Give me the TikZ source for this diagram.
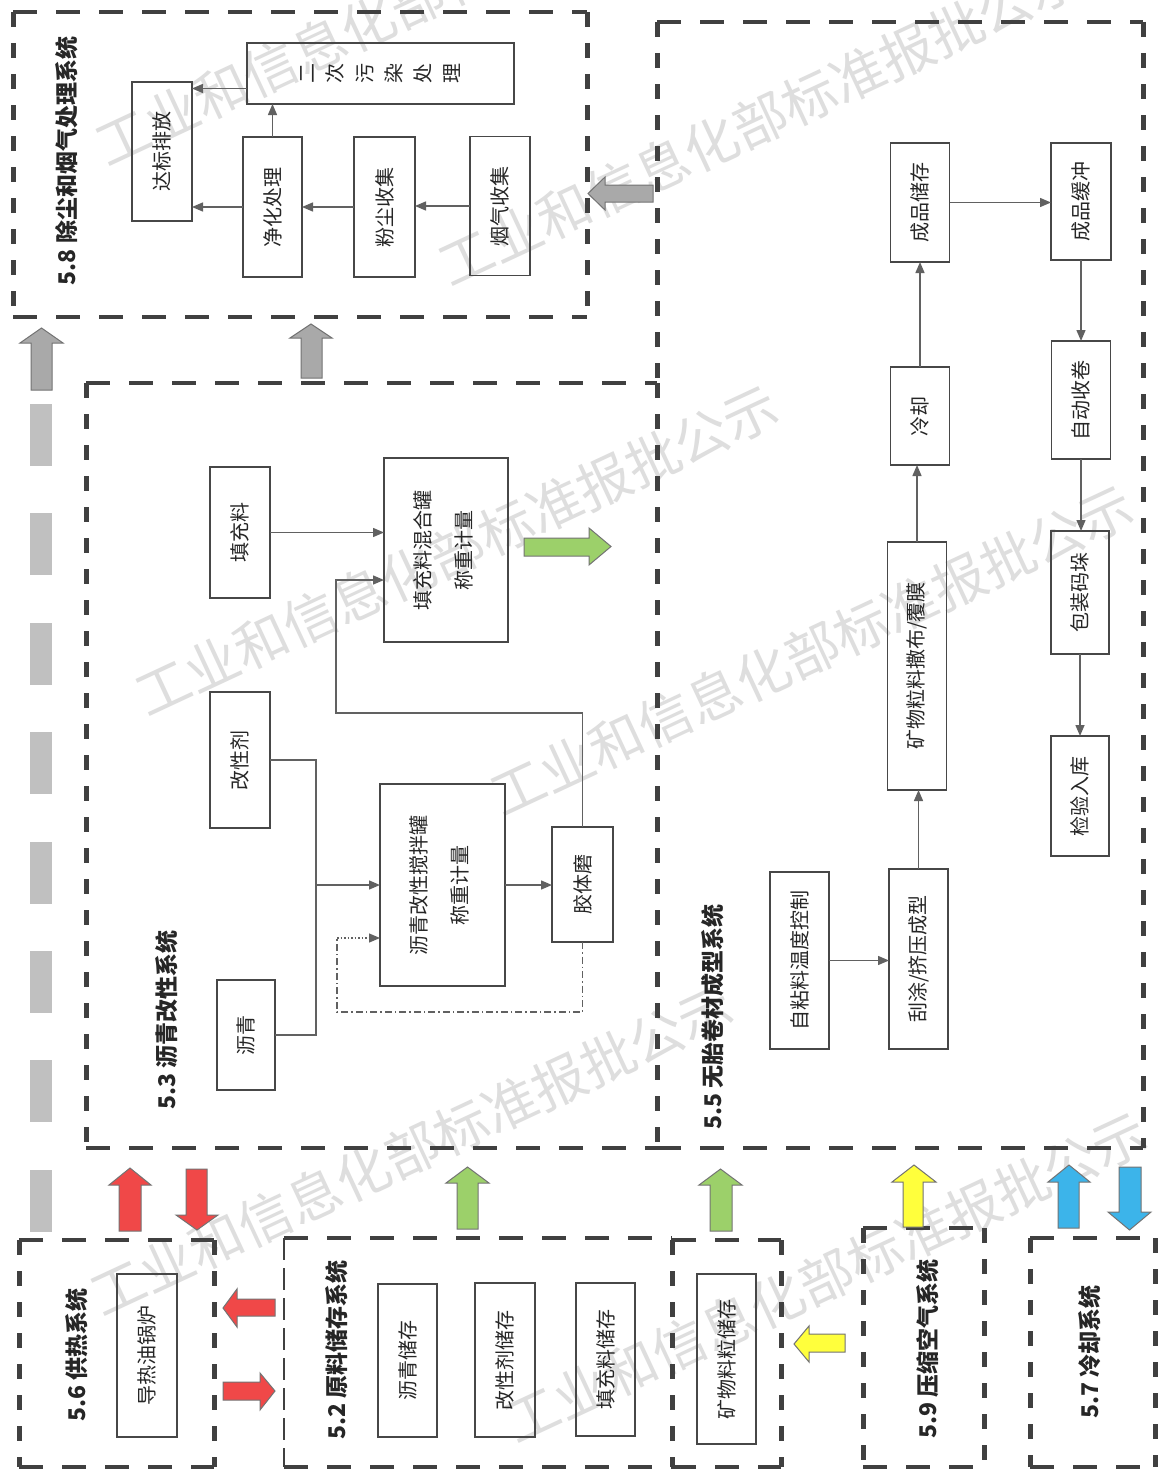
\documentclass[tikz,border=0pt]{standalone}
\usepackage{fontspec}
\setmainfont{Noto Sans CJK SC}
\usetikzlibrary{arrows.meta,fit}
\definecolor{dk}{HTML}{404040}
\definecolor{redA}{HTML}{F04848}
\definecolor{grnA}{HTML}{9CD06A}
\definecolor{yelA}{HTML}{FFFF3C}
\definecolor{bluA}{HTML}{3CB4EA}
\definecolor{gryA}{HTML}{A9A9A9}
\definecolor{gryB}{HTML}{C0C0C0}
\newcommand\sysbox[5]{\coordinate (#1-a) at (#2,#3); \coordinate (#1-b) at (#4,#5); \node[fit=(#1-a)(#1-b), inner sep=0pt, outer sep=0pt] (#1) {};}
\newcommand\hedges[1]{\draw[hd] (#1.north west) -- (#1.north east) (#1.south west) -- (#1.south east);}
\newcommand\vedges[1]{\draw[vd] (#1.north west) -- (#1.south west) (#1.north east) -- (#1.south east);}
\newcommand\bxn[6]{\node[bx, minimum width=#4pt, minimum height=#5pt] (#1) at (#2,#3) {\rotatebox{90}{#6}};}
\newcommand\ttln[4]{\node[ttl] (#1) at (#2,#3) {\rotatebox{90}{#4}};}
\newcommand\blkup[8]{\filldraw[blk, fill=#1] (#3,#8) -- (#3,#7) -- (#2,#7) -- ({(#2+#5)/2},#6) -- (#5,#7) -- (#4,#7) -- (#4,#8) -- cycle;}
\newcommand\blkdown[8]{\filldraw[blk, fill=#1] (#3,#6) -- (#3,#7) -- (#2,#7) -- ({(#2+#5)/2},#8) -- (#5,#7) -- (#4,#7) -- (#4,#6) -- cycle;}
\newcommand\rc[1]{\rotatebox{90}{#1}}
\begin{document}
\begin{tikzpicture}[x=1pt,y=-1pt,
  bx/.style={draw=black!72, line width=1.2pt, inner sep=0pt, outer sep=0pt, text=black!85, font=\fontsize{20}{24}\selectfont},
  ttl/.style={inner sep=0pt, text=black!85, font=\fontsize{23}{27}\selectfont\bfseries},
  ar/.style={draw=black!62, line width=1.4pt, -{Triangle[length=11pt,width=9pt]}},
  ln/.style={draw=black!62, line width=1.4pt},
  hd/.style={draw=dk, line width=4pt, dash pattern=on 24pt off 19pt},
  vd/.style={draw=dk, line width=5pt, dash pattern=on 15pt off 16pt},
  blk/.style={draw=black!55, line width=1pt},
  wm/.style={text=black!13, font=\fontsize{54}{60}\selectfont, rotate=25, inner sep=0pt}]
\useasboundingbox (0,0) rectangle (1158,1472);
\fill[white] (0,0) rectangle (1158,1472);
% watermark
\node[wm] (wm1) at (760,120) {工业和信息化部标准报批公示};
\node[wm] (wm2) at (417,0) {工业和信息化部标准报批公示};
\node[wm] (wm3) at (457,550) {工业和信息化部标准报批公示};
\node[wm] (wm4) at (812,650) {工业和信息化部标准报批公示};
\node[wm] (wm5) at (412,1150) {工业和信息化部标准报批公示};
\node[wm] (wm6) at (826,1277) {工业和信息化部标准报批公示};
% containers
\sysbox{c58}{13}{12}{587}{317}
\sysbox{c53}{86}{383}{657}{1148}
\sysbox{c55}{657}{22}{1143}{1148}
\sysbox{c56}{19}{1240}{214}{1467}
\sysbox{c52}{284}{1238}{672}{1467}
\sysbox{c5m}{672}{1240}{781}{1467}
\sysbox{c59}{863}{1228}{984}{1467}
\sysbox{c57}{1030}{1238}{1155}{1467}
\hedges{c58}\vedges{c58}
\hedges{c53}\vedges{c53}
\hedges{c55}
\draw[vd] (c55.north east) -- (c55.south east);
\draw[vd] (c55.north west) -- (c55.north west |- c53.north);
\hedges{c56}\vedges{c56}
\hedges{c52}
\draw[draw=dk, line width=1.5pt, dash pattern=on 22pt off 8pt] (c52.north west) -- (c52.south west);
\hedges{c5m}\vedges{c5m}
\hedges{c59}\vedges{c59}
\hedges{c57}\vedges{c57}
% titles
\ttln{t58}{67}{161}{5.8 除尘和烟气处理系统}
\ttln{t53}{167}{1020}{5.3 沥青改性系统}
\ttln{t55}{713}{1017}{5.5 无胎卷材成型系统}
\ttln{t56}{77}{1355}{5.6 供热系统}
\ttln{t52}{337}{1350}{5.2 原料储存系统}
\ttln{t59}{928}{1349}{5.9 压缩空气系统}
\ttln{t57}{1090}{1352}{5.7 冷却系统}
% 5.8 boxes
\bxn{dbpf}{162}{151.5}{60}{139}{达标排放}
\node[bx, minimum width=267pt, minimum height=61pt] (ecwr) at (380.5,73.5) {\rc{二}\hspace{11pt}\rc{次}\hspace{11pt}\rc{污}\hspace{11pt}\rc{染}\hspace{11pt}\rc{处}\hspace{11pt}\rc{理}};
\bxn{jhcl}{272.5}{207}{59}{140}{净化处理}
\bxn{fcsj}{384.5}{207}{61}{140}{粉尘收集}
\bxn{yqsj}{500}{206}{60}{139}{烟气收集}
\draw[ar] (yqsj.west) -- (yqsj.west -| fcsj.east);
\draw[ar] (fcsj.west) -- (fcsj.west -| jhcl.east);
\draw[ar] (jhcl.west) -- (jhcl.west -| dbpf.east);
\draw[ar] (jhcl.north) -- (jhcl.north |- ecwr.south);
\coordinate (e1) at ([yshift=-15pt]ecwr.west);
\draw[ar] (e1) -- (e1 -| dbpf.east);
% 5.5 boxes
\bxn{cpcc}{920}{202.5}{59}{119}{成品储存}
\bxn{cphc}{1081}{201.5}{60}{117}{成品缓冲}
\bxn{lq}{920}{416}{59}{98}{冷却}
\bxn{zdsj}{1081}{400}{59}{118}{自动收卷}
\bxn{kwl}{917}{666}{59}{248}{矿物粒料撒布/覆膜}
\bxn{bzmd}{1080}{592.5}{58}{123}{包装码垛}
\bxn{jyrk}{1080}{796}{58}{120}{检验入库}
\bxn{gtjy}{918.5}{959}{59}{180}{刮涂/挤压成型}
\bxn{zzl}{799.5}{960.5}{59}{177}{自粘料温度控制}
\draw[ar] (gtjy.north) -- (gtjy.north |- kwl.south);
\draw[ar] (kwl.north) -- (kwl.north |- lq.south);
\draw[ar] (lq.north) -- (lq.north |- cpcc.south);
\draw[ar] (cpcc.east) -- (cpcc.east -| cphc.west);
\draw[ar] (cphc.south) -- (cphc.south |- zdsj.north);
\draw[ar] (zdsj.south) -- (zdsj.south |- bzmd.north);
\draw[ar] (bzmd.south) -- (bzmd.south |- jyrk.north);
\draw[ar] (zzl.east) -- (zzl.east -| gtjy.west);
% 5.3 boxes
\bxn{tcl}{240}{532.5}{60}{131}{填充料}
\bxn{hhg}{446}{550}{124}{184}{\begin{tabular}{@{}c@{}}填充料混合罐\\[17pt]称重计量\end{tabular}}
\bxn{gxj}{240}{760}{60}{136}{改性剂}
\bxn{lq2}{246}{1035}{58}{110}{沥青}
\bxn{jbg}{442.5}{885}{125}{202}{\begin{tabular}{@{}c@{}}沥青改性搅拌罐\\[17pt]称重计量\end{tabular}}
\bxn{jtm}{582.5}{884.5}{61}{115}{胶体磨}
\draw[ar] (tcl.east) -- (tcl.east -| hhg.west);
\coordinate (fb1) at (336,713);
\coordinate (fb2) at (336,580);
\draw[ar] (jtm.north) |- (fb1) -- (fb2) -- (fb2 -| hhg.west);
\coordinate (jn) at (316,885);
\draw[ln] (gxj.east) -| (jn);
\draw[ln] (lq2.east) -| (jn);
\draw[ar] (jn) -- (jn -| jbg.west);
\draw[ar] (jbg.east) -- (jbg.east -| jtm.west);
\coordinate (dd1) at (337,1012);
\coordinate (dd2) at (337,938);
\draw[draw=black!62, line width=1.2pt, dash pattern=on 7pt off 3pt on 1.5pt off 3pt] (jtm.south) |- (dd1) -- (dd2);
\draw[ar, line width=1.2pt, dash pattern=on 1.5pt off 2pt] (dd2) -- (dd2 -| jbg.west);
% bottom boxes
\bxn{drgl}{147}{1355.5}{60}{163}{导热油锅炉}
\bxn{lqcc}{407.5}{1360.5}{59}{153}{沥青储存}
\bxn{gxjcc}{505}{1360}{60}{154}{改性剂储存}
\bxn{tclcc}{605.5}{1359.5}{59}{153}{填充料储存}
\bxn{kwlcc}{726.5}{1359}{59}{170}{矿物料粒储存}
% grey dashes column
\foreach \k in {0,...,7} \fill[gryB] (30,{404+\k*109.4}) rectangle (52,{466+\k*109.4});
% block arrows
\blkup{gryA}{20}{31}{52}{63}{328}{343}{390}
\blkup{gryA}{290}{301}{322}{332}{324}{338}{378}
\filldraw[blk, fill=gryA] (653,185) -- (605,185) -- (605,177) -- (588,193.5) -- (605,210) -- (605,202) -- (653,202) -- cycle;
\filldraw[blk, fill=grnA] (524,538) -- (589,538) -- (589,528) -- (611,546.5) -- (589,565) -- (589,556) -- (524,556) -- cycle;
\blkup{redA}{109}{119}{141}{151}{1168}{1185}{1231}
\blkdown{redA}{176}{186}{207}{218}{1169}{1215}{1230}
\blkup{grnA}{446}{457}{478}{489}{1167}{1183}{1229}
\blkup{grnA}{699}{710}{732}{742}{1169}{1185}{1231}
\blkup{yelA}{892}{903}{923}{936}{1165}{1182}{1227}
\blkup{bluA}{1048}{1058}{1079}{1090}{1165}{1182}{1228}
\blkdown{bluA}{1108}{1119}{1141}{1151}{1167}{1212}{1230}
\filldraw[blk, fill=redA] (275,1299) -- (237,1299) -- (237,1289) -- (223,1308) -- (237,1327) -- (237,1316) -- (275,1316) -- cycle;
\filldraw[blk, fill=redA] (223,1382) -- (260,1382) -- (260,1373) -- (275,1391) -- (260,1410) -- (260,1400) -- (223,1400) -- cycle;
\filldraw[blk, fill=yelA] (845,1334) -- (809,1334) -- (809,1326) -- (794,1344) -- (809,1362) -- (809,1352) -- (845,1352) -- cycle;
\end{tikzpicture}
\end{document}
